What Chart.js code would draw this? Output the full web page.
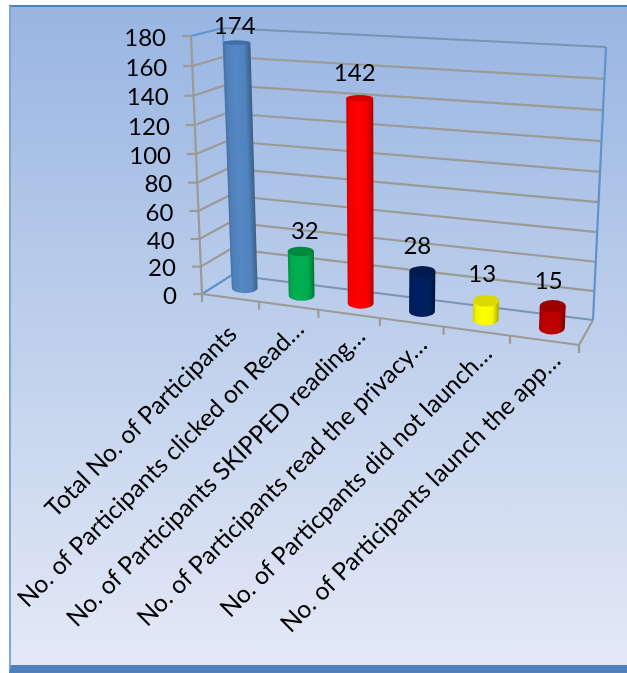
<!DOCTYPE html>
<html>
<head>
<meta charset="utf-8">
<title>Participants</title>
<script src="https://cdn.jsdelivr.net/npm/chart.js@4/dist/chart.umd.min.js"></script>
<style>
    html, body { margin: 0; padding: 0; background: #fff; }
    #wrap { position: relative; width: 627px; height: 673px; overflow: hidden; }
    #panel {
        position: absolute; left: 9px; top: 5px; right: 0; bottom: 0;
        box-sizing: border-box;
        border-top: 2px solid #4f81bd;
        border-left: 2px solid #7fa6d8;
        border-bottom: 8px solid #4f81bd;
        background: linear-gradient(to bottom, #98b5e2 0%, #bbcdeb 45%, #e3e9f6 100%);
    }
    canvas { position: absolute; left: 0; top: 0; }
</style>
</head>
<body>
<div id="wrap">
    <div id="panel"></div>
    <canvas id="chart" width="627" height="673"></canvas>
</div>
<script>
const categories = [
    'Total No. of Participants',
    'No. of Participants clicked on Read\u2026',
    'No. of Participants SKIPPED reading\u2026',
    'No. of Participants read the privacy\u2026',
    'No. of Particpants did not launch\u2026',
    'No. of Participants launch the app\u2026'
]
const values = [174, 32, 142, 28, 13, 15]
const barColors = ['#5487c4', '#00b050', '#ff0000', '#002060', '#ffff00', '#c00000']
const capColors = ['#3f6ea8', '#008a3e', '#d40000', '#001a4d', '#dada00', '#9c0000']
const yMax = 180
const yStep = 20

// box corners on screen, f/b = front/back, l/r = left/right, 0/1 = floor/top
const box = {
    fl0: [202, 294], fr0: [579, 345], bl0: [232, 275], br0: [593, 320],
    fl1: [191, 36], fr1: [591, 60], bl1: [223, 28], br1: [606, 47]
}
const xBend = 1.12
const yBend = 1.054
const barRadiusX = 0.035
const barRadiusZ = 0.26
const labelShift = [[-2, -16], [4, -20], [-5, -25], [-5, -25], [-4, -26], [-4, -25]]
const catShift = [[8, 38], [17, 25], [18, 24], [17, 24], [17, 24], [18, 22]]

const gridColor = '#9b9a95'
const edgeColor = '#5f93cc'
const backEdgeColor = '#7a93b2'
const fontName = 'Lato, "Open Sans", sans-serif'

function lerp(a, b, t) {
    return [a[0] + (b[0] - a[0]) * t, a[1] + (b[1] - a[1]) * t]
}
function bend(t, k) {
    return t / (t + k * (1 - t))
}
// position inside the box, all three arguments already 0..1
function place(u, v, d) {
    let front = lerp(lerp(box.fl0, box.fr0, u), lerp(box.fl1, box.fr1, u), v)
    let back = lerp(lerp(box.bl0, box.br0, u), lerp(box.bl1, box.br1, u), v)
    return lerp(front, back, d)
}
// turn a scale pixel into a box position
function project(chart, px, py, d) {
    let area = chart.chartArea
    let u = (px - area.left) / (area.right - area.left)
    let v = (area.bottom - py) / (area.bottom - area.top)
    return place(bend(u, xBend), bend(v, yBend), d)
}
function line(ctx, a, b, color, width) {
    ctx.beginPath()
    ctx.moveTo(a[0], a[1])
    ctx.lineTo(b[0], b[1])
    ctx.strokeStyle = color
    ctx.lineWidth = width
    ctx.stroke()
}
function shade(hex, k) {
    let n = parseInt(hex.slice(1), 16)
    let r = Math.round((n >> 16 & 255) * k)
    let g = Math.round((n >> 8 & 255) * k)
    let b = Math.round((n & 255) * k)
    return `rgb(${r},${g},${b})`
}

function drawFrame(chart) {
    let ctx = chart.ctx
    let x = chart.scales.x
    let y = chart.scales.y
    let area = chart.chartArea

    // value gridlines over the side wall and the back wall, with ticks and labels
    y.ticks.forEach((tick, i) => {
        let py = y.getPixelForTick(i)
        let front = project(chart, area.left, py, 0)
        let corner = project(chart, area.left, py, 1)
        let right = project(chart, area.right, py, 1)
        let isEnd = tick.value === 0 || tick.value === yMax
        line(ctx, front, corner, isEnd ? edgeColor : gridColor, 2.2)
        line(ctx, corner, right, isEnd ? backEdgeColor : gridColor, 2.2)
        line(ctx, front, [front[0] - 9, front[1]], gridColor, 2.2)

        ctx.fillStyle = '#000'
        ctx.font = `24px ${fontName}`
        ctx.textAlign = 'right'
        ctx.textBaseline = 'middle'
        ctx.fillText(tick.label, front[0] - 25, front[1] + 2)
    })

    // walls and floor edges
    line(ctx, place(0, 0, 1), place(0, 1, 1), edgeColor, 2)
    line(ctx, place(1, 0, 1), place(1, 1, 1), edgeColor, 2.2)
    line(ctx, place(0, 0, 0), place(0, 1, 0), gridColor, 2.2)
    line(ctx, place(0, 0, 0), place(1, 0, 0), gridColor, 2.2)
    line(ctx, place(1, 0, 0), place(1, 0, 1), gridColor, 2.2)

    // category ticks on the front floor edge and slanted labels
    let n = x.ticks.length
    for (let i = 0; i <= n; i++) {
        let p = place(bend(i / n, xBend), 0, 0)
        line(ctx, p, [p[0], p[1] + 8], gridColor, 2.2)
    }
    x.ticks.forEach((tick, i) => {
        let px = x.getPixelForTick(i)
        let p = project(chart, px, area.bottom, 0)
        ctx.save()
        ctx.translate(p[0] + catShift[i][0], p[1] + catShift[i][1])
        ctx.rotate(-45 * Math.PI / 180)
        ctx.fillStyle = '#000'
        ctx.font = `24.6px ${fontName}`
        ctx.textAlign = 'right'
        ctx.textBaseline = 'alphabetic'
        ctx.fillText(tick.label, 0, 0)
        ctx.restore()
    })
}

function drawBar(chart, bar, color, cap) {
    let ctx = chart.ctx
    let area = chart.chartArea
    let u = (bar.x - area.left) / (area.right - area.left)
    let fu = bend(u, xBend)
    let v = (area.bottom - bar.y) / (area.bottom - area.top)
    let fv = bend(v, yBend)

    let low = place(fu, 0, 0.5)
    let high = place(fu, fv, 0.5)
    let rxLow = (place(fu + barRadiusX, 0, 0.5)[0] - place(fu - barRadiusX, 0, 0.5)[0]) / 2
    let rxHigh = (place(fu + barRadiusX, fv, 0.5)[0] - place(fu - barRadiusX, fv, 0.5)[0]) / 2
    let ryLow = Math.abs(place(fu, 0, 0.5 + barRadiusZ)[1] - place(fu, 0, 0.5 - barRadiusZ)[1]) / 2
    let ryHigh = Math.abs(place(fu, fv, 0.5 + barRadiusZ)[1] - place(fu, fv, 0.5 - barRadiusZ)[1]) / 2
    let h = high[1] - low[1]

    ctx.save()
    ctx.translate(low[0], low[1])
    ctx.transform(1, 0, (high[0] - low[0]) / h, 1, 0, 0)

    let side = ctx.createLinearGradient(-rxHigh, 0, rxHigh, 0)
    side.addColorStop(0, shade(color, 0.82))
    side.addColorStop(0.12, shade(color, 0.95))
    side.addColorStop(0.4, shade(color, 1))
    side.addColorStop(0.75, shade(color, 0.97))
    side.addColorStop(1, shade(color, 0.68))

    ctx.beginPath()
    ctx.ellipse(0, 0, rxLow, ryLow, 0, Math.PI, 0, true)
    ctx.lineTo(rxHigh, h)
    ctx.lineTo(-rxHigh, h)
    ctx.closePath()
    ctx.fillStyle = side
    ctx.fill()

    ctx.beginPath()
    ctx.ellipse(0, h, rxHigh, ryHigh, 0, 0, Math.PI * 2)
    ctx.fillStyle = cap
    ctx.fill()
    ctx.restore()

    return high
}

const box3d = {
    id: 'box3d',
    beforeDatasetsDraw(chart) {
        drawFrame(chart)
    },
    // the flat rectangles are replaced by cylinders fed from the same elements
    beforeDatasetDraw(chart, args) {
        let ctx = chart.ctx
        args.meta.data.forEach((bar, i) => {
            let top = drawBar(chart, bar, barColors[i], capColors[i])
            ctx.fillStyle = '#000'
            ctx.font = `24px ${fontName}`
            ctx.textAlign = 'center'
            ctx.textBaseline = 'middle'
            ctx.fillText(String(values[i]), top[0] + labelShift[i][0], top[1] + labelShift[i][1])
        })
        return false
    }
}

new Chart(document.getElementById('chart'), {
    type: 'bar',
    data: {
        labels: categories,
        datasets: [{ data: values, backgroundColor: barColors }]
    },
    options: {
        responsive: false,
        animation: false,
        layout: { padding: 0 },
        plugins: { legend: { display: false }, tooltip: { enabled: false }, title: { display: false } },
        scales: {
            x: { display: false, ticks: { autoSkip: false } },
            y: { display: false, min: 0, max: yMax, ticks: { stepSize: yStep } }
        }
    },
    plugins: [box3d]
})
</script>
</body>
</html>
